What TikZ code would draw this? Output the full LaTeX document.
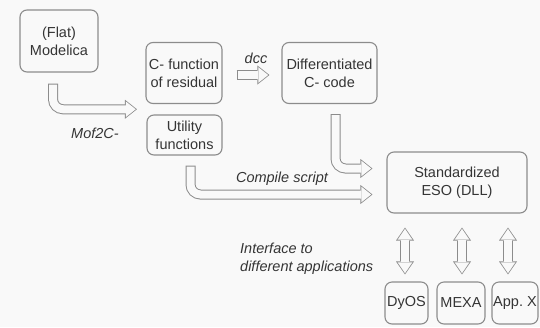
\documentclass[tikz,border=0pt]{standalone}
\usepackage{fontspec}
\setmainfont{Liberation Sans}
\usetikzlibrary{arrows.meta,calc}

\definecolor{edgegray}{HTML}{8C8C8C}
\definecolor{textgray}{HTML}{353535}
\definecolor{paper}{HTML}{F9F9F9}

\tikzset{
  block/.style = {draw=edgegray, line width=1.1pt, rounded corners=7pt, fill=paper,
    align=center, text=textgray, inner sep=0pt,
    font=\fontsize{14.5}{18}\selectfont},
  lbl/.style = {text=textgray, inner sep=0pt, font=\fontsize{14.5}{18}\selectfont\itshape},
  % wide outlined arrows: grey body, then a paper coloured body on top
  hollow/.style = {draw=edgegray, line width=10pt, rounded corners=10pt,
    -{Triangle[width=19pt,length=12pt,line width=0pt]},
    postaction={draw=paper, line width=8pt,
      -{Triangle[width=15.6pt,length=9.8pt,line width=0pt]},
      shorten <=1pt, shorten >=1.3pt}},
  hollowboth/.style = {draw=edgegray, line width=10pt,
    {Triangle[width=18pt,length=13pt,line width=0pt]}-{Triangle[width=18pt,length=13pt,line width=0pt]},
    postaction={draw=paper, line width=8pt,
      {Triangle[width=14.6pt,length=10.7pt,line width=0pt]}-{Triangle[width=14.6pt,length=10.7pt,line width=0pt]},
      shorten <=1.3pt, shorten >=1.3pt}},
}

\begin{document}
\begin{tikzpicture}[x=1pt, y=-1pt]
\useasboundingbox [fill=paper] (0,0) rectangle (540,327);

% boxes
\node [block, minimum width=78pt, minimum height=62pt] (modelica) at (59,41) {(Flat)\\Modelica};
\node [block, minimum width=76pt, minimum height=61pt] (resid) at (184,73) {C- function\\of residual};
\node [block, minimum width=75pt, minimum height=40pt] (util) at (184.5,135) {Utility\\functions};
\node [block, minimum width=95pt, minimum height=61pt] (diffc) at (329.5,73) {Differentiated\\C- code};
\node [block, minimum width=140pt, minimum height=61pt] (eso) at (457,182.5) {Standardized\\ESO (DLL)};
\node [block, minimum width=43pt, minimum height=42pt] (dyos) at (406.5,303) {DyOS};
\node [block, minimum width=48pt, minimum height=42pt] (mexa) at (461,303) {MEXA};
\node [block, minimum width=46pt, minimum height=42pt] (appx) at (515,303) {App.~X};

% tool chain
\draw [hollow] ($(modelica.south)+(-6,11)$) |- ($(resid.south west)!0.5!(util.north west)+(-9,0)$);
\draw [hollow] ($(resid.east)+(14,2)$) -- ($(diffc.west)+(-12,2)$);
\draw [hollow] ($(diffc.south)+(6,10)$) |- ($(eso.west)+(-14,-14)$);
\draw [hollow] ($(util.south)+(6,10)$) |- ($(eso.west)+(-14,12)$);

% interfaces
\draw [hollowboth] ($(eso.south -| dyos.north)+(-1.5,14)$) -- ($(dyos.north)+(-1.5,-7)$);
\draw [hollowboth] ($(eso.south -| mexa.north)+(1,14)$) -- ($(mexa.north)+(1,-7)$);
\draw [hollowboth] ($(eso.south -| appx.north)+(-7,14)$) -- ($(appx.north)+(-7,-7)$);

% labels
\node [lbl] (dcclbl) at (256,58) {dcc};
\node [lbl] (moflbl) at (95,133) {Mof2C-};
\node [lbl] (complbl) at (282,179) {Compile script};
\node [lbl, anchor=west, align=left] (iflbl) at (240,259) {Interface to\\different applications};
\end{tikzpicture}
\end{document}
